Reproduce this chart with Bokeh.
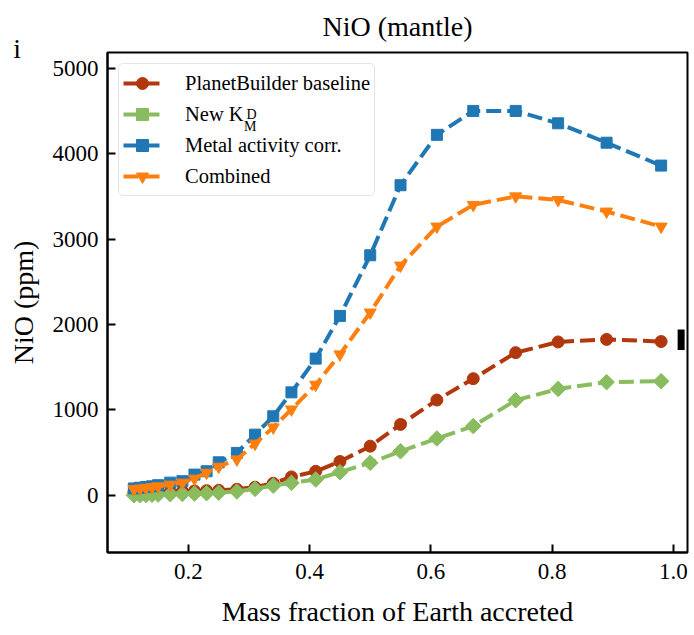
from bokeh.plotting import figure
from bokeh.models import (Range1d, FixedTicker, Label, Legend, LegendItem, ColumnDataSource,
                          PrintfTickFormatter, Title)
from bokeh.embed import file_html
from bokeh.resources import INLINE

# ---- data ----
mass_fraction = [0.11, 0.12, 0.13, 0.14, 0.15, 0.17, 0.19, 0.21, 0.23, 0.25, 0.28, 0.31,
                 0.34, 0.37, 0.41, 0.45, 0.50, 0.55, 0.61, 0.67, 0.74, 0.81, 0.89, 0.98]
baseline = [30, 32, 34, 36, 38, 42, 46, 50, 54, 58, 70, 95,
            140, 215, 280, 395, 575, 830, 1115, 1365, 1670, 1795, 1825, 1800]
new_kd = [0, 2, 4, 6, 8, 12, 16, 20, 24, 30, 45, 75,
          113, 145, 185, 270, 380, 515, 665, 810, 1112, 1245, 1325, 1335]
metal_activity = [80, 88, 96, 105, 118, 148, 165, 242, 281, 386, 496, 710,
                  925, 1205, 1600, 2100, 2810, 3630, 4220, 4500, 4500, 4355, 4128, 3860]
combined = [72, 80, 88, 96, 105, 125, 148, 195, 265, 335, 420, 605,
            795, 1005, 1295, 1650, 2140, 2690, 3146, 3400, 3500, 3458, 3322, 3146]
obs_x = [1.013]
obs_low = [1700]
obs_high = [1940]

x_ticks = [0.2, 0.4, 0.6, 0.8, 1.0]
x_tick_labels = ["0.2", "0.4", "0.6", "0.8", "1.0"]
y_ticks = [0, 1000, 2000, 3000, 4000, 5000]
y_tick_labels = ["0", "1000", "2000", "3000", "4000", "5000"]

series_labels = ["PlanetBuilder baseline", "New K", "Metal activity corr.", "Combined"]
series_colors = ["#b0380c", "#88bc5e", "#1f77b4", "#ff7f0e"]

FONT = "Liberation Serif"

p = figure(frame_width=580, frame_height=500, output_backend="svg", toolbar_location=None,
           x_range=Range1d(0.0665, 1.0235), y_range=Range1d(-670, 5184),
           min_border_left=107, min_border_right=2, min_border_top=52, min_border_bottom=80)
p.background_fill_color = "white"
p.border_fill_color = "white"
p.outline_line_color = "black"
p.outline_line_width = 2
p.xgrid.visible = False
p.ygrid.visible = False

# panel letter "i" (closest title panel, pushed down next to the frame's top-left corner)
p.add_layout(Title(text="i", align="left", offset=-94.3, standoff=-23, vertical_align="bottom",
                   text_font=FONT, text_font_size="28px", text_font_style="normal",
                   text_color="black"), "above")
p.add_layout(Title(text="NiO (mantle)", align="center", offset=5, standoff=1,
                   text_font=FONT, text_font_size="28px", text_font_style="normal",
                   text_color="black"), "above")

for ax in (p.xaxis[0], p.yaxis[0]):
    ax.major_tick_in = 8
    ax.major_tick_out = 0
    ax.minor_tick_in = 0
    ax.minor_tick_out = 0
    ax.major_tick_line_width = 2
    ax.major_tick_line_color = "black"
    ax.axis_line_width = 2
    ax.axis_line_color = "black"
    ax.major_label_text_font = FONT
    ax.major_label_text_font_size = "23px"
    ax.major_label_text_color = "black"
    ax.axis_label_text_font = FONT
    ax.axis_label_text_font_size = "28px"
    ax.axis_label_text_font_style = "normal"
    ax.axis_label_text_color = "black"

p.xaxis.ticker = FixedTicker(ticks=x_ticks)
p.xaxis.formatter = PrintfTickFormatter(format="%.1f")
p.xaxis.major_label_overrides = dict(zip(x_ticks, x_tick_labels))
p.xaxis.major_label_standoff = 11
p.xaxis.axis_label = "Mass fraction of Earth accreted"
p.xaxis.axis_label_standoff = 14
p.yaxis.ticker = FixedTicker(ticks=y_ticks)
p.yaxis.major_label_overrides = dict(zip(y_ticks, y_tick_labels))
p.yaxis.major_label_standoff = 9
p.yaxis.axis_label = "NiO (ppm)"
p.yaxis.axis_label_standoff = 11

# marker for each series: (marker, size, angle)
markers = [("circle", 12, 0.0), ("square", 11, 0.785398),
           ("square", 11, 0.0), ("inverted_triangle", 12, 0.0)]
items = []
for ys, label, color, (mk, sz, ang) in zip([baseline, new_kd, metal_activity, combined],
                                           series_labels, series_colors, markers):
    src = ColumnDataSource(dict(x=mass_fraction, y=ys))
    r1 = p.line("x", "y", source=src, line_color=color, line_width=4, line_dash="15 6")
    r2 = p.scatter("x", "y", source=src, marker=mk, size=sz, angle=ang,
                   fill_color=color, line_color=color, line_width=1)
    items.append(LegendItem(label=label, renderers=[r1, r2]))

obs_src = ColumnDataSource(dict(x=obs_x, lo=obs_low, hi=obs_high))
p.segment(x0="x", y0="lo", x1="x", y1="hi", source=obs_src, line_width=7, line_color="black")

legend = Legend(items=items, location="top_left", margin=11, padding=4, spacing=1,
                glyph_width=38, glyph_height=30, label_height=30, label_standoff=24,
                label_text_font=FONT, label_text_font_size="20.5px", label_text_color="black",
                border_line_color="#cccccc", border_line_width=1.5, border_radius=5,
                background_fill_color="white", background_fill_alpha=0.0)
p.add_layout(legend)

# super/subscript for "New K_M^D"
p.add_layout(Label(x=139, y=438.5, x_units="screen", y_units="screen", text="D", level="overlay",
                   text_font=FONT, text_font_size="14px", text_color="black",
                   text_baseline="alphabetic"))
p.add_layout(Label(x=136.5, y=426.5, x_units="screen", y_units="screen", text="M", level="overlay",
                   text_font=FONT, text_font_size="14px", text_color="black",
                   text_baseline="alphabetic"))

open("out.html", "w").write(file_html(p, INLINE))
